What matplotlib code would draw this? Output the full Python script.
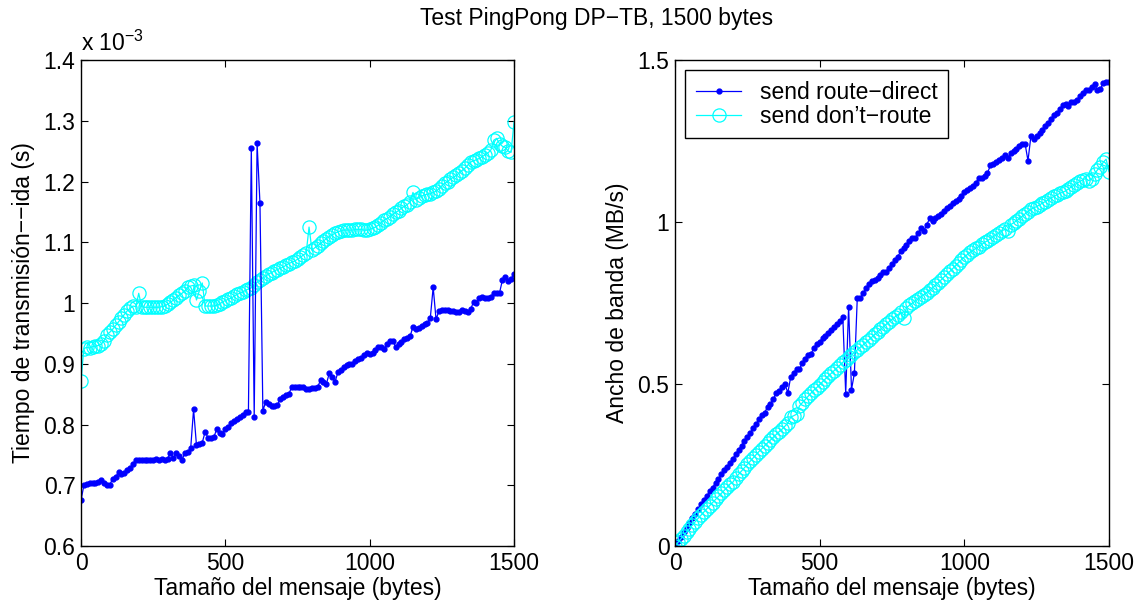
import numpy as np
import matplotlib
matplotlib.use("Agg")
import matplotlib.pyplot as plt

plt.rcParams['font.family'] = ['Liberation Sans', 'DejaVu Sans']
plt.rcParams['mathtext.default'] = 'regular'
plt.rcParams['axes.unicode_minus'] = True

# message sizes (bytes)
sizes = list(range(0, 1501, 10))

# one-way transmission time, in units of 1e-3 s
t_direct = [
    0.675, 0.700, 0.702, 0.703, 0.703, 0.704, 0.705, 0.709, 0.704, 0.700,
    0.701, 0.711, 0.713, 0.722, 0.718, 0.720, 0.725, 0.728, 0.735, 0.742,
    0.741, 0.742, 0.741, 0.742, 0.741, 0.742, 0.743, 0.742, 0.743, 0.742,
    0.744, 0.753, 0.745, 0.753, 0.748, 0.742, 0.753, 0.755, 0.761, 0.825,
    0.766, 0.768, 0.770, 0.788, 0.778, 0.778, 0.779, 0.792, 0.786, 0.785,
    0.793, 0.796, 0.802, 0.805, 0.809, 0.813, 0.816, 0.821, 0.821, 1.255,
    0.813, 1.263, 1.164, 0.823, 0.837, 0.833, 0.830, 0.830, 0.832, 0.842,
    0.846, 0.848, 0.850, 0.862, 0.862, 0.862, 0.862, 0.862, 0.858, 0.859,
    0.860, 0.860, 0.862, 0.873, 0.870, 0.867, 0.884, 0.878, 0.870, 0.886,
    0.890, 0.894, 0.898, 0.900, 0.900, 0.904, 0.907, 0.910, 0.914, 0.917,
    0.916, 0.918, 0.922, 0.927, 0.927, 0.925, 0.932, 0.938, 0.938, 0.928,
    0.932, 0.936, 0.940, 0.943, 0.945, 0.961, 0.957, 0.959, 0.962, 0.965,
    0.967, 0.975, 1.026, 0.973, 0.987, 0.988, 0.988, 0.988, 0.987, 0.987,
    0.986, 0.985, 0.988, 0.987, 0.985, 0.990, 1.002, 1.000, 1.008, 1.010,
    1.009, 1.009, 1.010, 1.017, 1.016, 1.017, 1.038, 1.042, 1.036, 1.040,
    1.048,
]

t_noroute = [
    0.872, 0.925, 0.927, 0.926, 0.928, 0.929, 0.930, 0.932, 0.938, 0.948,
    0.952, 0.957, 0.963, 0.969, 0.975, 0.981, 0.987, 0.991, 0.995, 0.994,
    1.016, 0.994, 0.993, 0.993, 0.993, 0.993, 0.993, 0.993, 0.994, 0.995,
    0.998, 1.001, 1.005, 1.009, 1.013, 1.016, 1.020, 1.026, 1.028, 1.029,
    1.005, 1.020, 1.033, 0.995, 0.995, 0.995, 0.995, 0.996, 0.998, 1.002,
    1.004, 1.006, 1.008, 1.011, 1.014, 1.016, 1.018, 1.021, 1.023, 1.025,
    1.029, 1.034, 1.038, 1.041, 1.044, 1.048, 1.050, 1.053, 1.055, 1.057,
    1.059, 1.062, 1.065, 1.067, 1.069, 1.072, 1.075, 1.079, 1.082, 1.125,
    1.087, 1.091, 1.094, 1.098, 1.102, 1.106, 1.109, 1.112, 1.115, 1.117,
    1.119, 1.120, 1.120, 1.120, 1.120, 1.121, 1.121, 1.121, 1.120, 1.120,
    1.121, 1.123, 1.125, 1.128, 1.132, 1.136, 1.139, 1.142, 1.146, 1.149,
    1.152, 1.156, 1.159, 1.162, 1.166, 1.182, 1.170, 1.173, 1.176, 1.178,
    1.179, 1.180, 1.182, 1.184, 1.188, 1.193, 1.197, 1.200, 1.204, 1.207,
    1.210, 1.214, 1.218, 1.222, 1.227, 1.232, 1.234, 1.236, 1.238, 1.241,
    1.244, 1.247, 1.252, 1.268, 1.271, 1.262, 1.258, 1.256, 1.250, 1.248,
    1.298,
]

series_labels = ["send route\u2212direct", "send don\u2019t\u2212route"]

x = np.array(sizes, dtype=float)
td = np.array(t_direct)
tn = np.array(t_noroute)
# bandwidth in MB/s = bytes / (t_ms * 1e-3) / 1e6
bw_d = x / td / 1000.0
bw_n = x / tn / 1000.0

fig = plt.figure(figsize=(11.4, 6.1), dpi=100)
ax1 = fig.add_axes([81/1140, 64/610, 433/1140, 486/610])
ax2 = fig.add_axes([675/1140, 64/610, 434/1140, 486/610])

fs = 16.5

def style(ax):
    ax.tick_params(direction='in', top=True, right=True, length=5, width=0.8,
                   labelsize=fs, pad=4)
    for sp in ax.spines.values():
        sp.set_linewidth(1.0)

ax1.plot(x, tn, '-o', color=(0, 1, 1), ms=9.5, mfc='none', mew=0.9, lw=0.9)
ax1.plot(x, td, '.-', color=(0, 0, 1), ms=7, lw=0.9)
ax1.set_xlim(0, 1500)
ax1.set_ylim(0.6, 1.4)
ax1.set_xticks([0, 500, 1000, 1500])
ax1.set_yticks(np.arange(0.6, 1.41, 0.1))
ax1.set_yticklabels(['%g' % round(v, 1) for v in np.arange(0.6, 1.41, 0.1)])
ax1.set_xlabel('Tama\u00f1o del mensaje (bytes)', fontsize=fs, labelpad=2)
ax1.set_ylabel('Tiempo de transmisi\u00f3n\u2212\u2212ida (s)', fontsize=fs, labelpad=6)
ax1.text(0.0, 1.008, 'x 10$^{\u22123}$', transform=ax1.transAxes, fontsize=fs,
         ha='left', va='bottom')
style(ax1)

l1, = ax2.plot(x, bw_d, '.-', color=(0, 0, 1), ms=7, lw=0.9)
l2, = ax2.plot(x, bw_n, '-o', color=(0, 1, 1), ms=9.5, mfc='none', mew=0.9, lw=0.9)
ax2.set_xlim(0, 1500)
ax2.set_ylim(0, 1.5)
ax2.set_xticks([0, 500, 1000, 1500])
ax2.set_yticks([0, 0.5, 1, 1.5])
ax2.set_yticklabels(['0', '0.5', '1', '1.5'])
ax2.set_xlabel('Tama\u00f1o del mensaje (bytes)', fontsize=fs, labelpad=2)
ax2.set_ylabel('Ancho de banda (MB/s)', fontsize=fs, labelpad=6)
leg = ax2.legend([l1, l2], series_labels, loc='upper left', fontsize=fs,
                 fancybox=False, framealpha=1, edgecolor='black',
                 borderaxespad=0.45, handlelength=2.0, labelspacing=0.05,
                 borderpad=0.45, handletextpad=0.8)
leg.get_frame().set_linewidth(1.0)
style(ax2)

fig.text(0.5235, 0.97, 'Test PingPong DP\u2212TB, 1500 bytes', ha='center',
         va='center', fontsize=fs)

fig.savefig('out.png', dpi=100)
